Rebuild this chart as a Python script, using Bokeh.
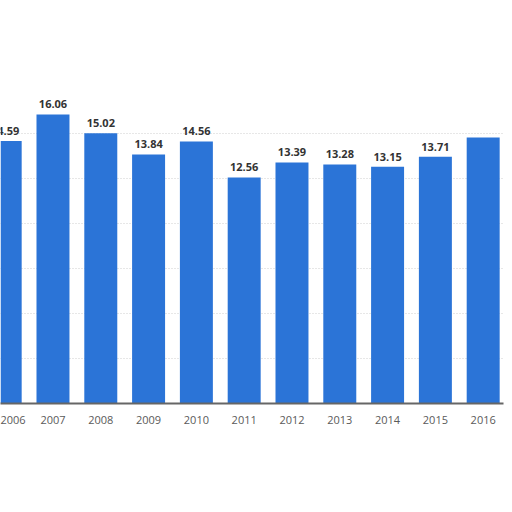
from bokeh.plotting import figure
from bokeh.models import ColumnDataSource, FixedTicker, Range1d
from bokeh.core.properties import value
from bokeh.embed import file_html
from bokeh.resources import INLINE

# values (2006 and 2016 partly hidden, estimated)
years = ["2006", "2007", "2008", "2009", "2010", "2011", "2012", "2013", "2014", "2015", "2016"]
rates = [14.59, 16.06, 15.02, 13.84, 14.56, 12.56, 13.39, 13.28, 13.15, 13.71, 14.78]
labels = ["14.59", "16.06", "15.02", "13.84", "14.56", "12.56", "13.39", "13.28", "13.15", "13.71", ""]

pos = list(range(len(years)))
src = ColumnDataSource(data=dict(x=pos, top=rates, label=labels))

p = figure(width=512, height=496, output_backend="svg", toolbar_location=None,
           x_range=Range1d(-0.098, 10.425), y_range=Range1d(0, 17.5),
           min_border_left=0, min_border_right=9, min_border_top=88, min_border_bottom=93)
p.outline_line_color = None
p.background_fill_color = "white"
p.border_fill_color = "white"

p.vbar(x="x", top="top", width=0.69, source=src, fill_color="#2b74d7", line_color=None)
p.text(x="x", y="top", text="label", source=src, y_offset=-6,
       text_align="center", text_baseline="bottom",
       text_font=value("Open Sans"), text_font_style="bold",
       text_font_size="11px", text_color="#333333")

p.yaxis.visible = False
p.xgrid.grid_line_color = None
p.ygrid.ticker = FixedTicker(ticks=[2.5, 5, 7.5, 10, 12.5, 15, 17.5])
p.ygrid.grid_line_color = "#cfcfcf"
p.ygrid.grid_line_dash = "1 2"

p.xaxis.ticker = FixedTicker(ticks=pos)
p.xaxis.major_label_overrides = {i: y for i, y in zip(pos, years)}
p.xaxis.major_tick_line_color = None
p.xaxis.minor_tick_line_color = None
p.xaxis.axis_line_color = "#666666"
p.xaxis.axis_line_width = 2
p.xaxis.major_label_standoff = 6
p.xaxis.major_label_text_font = "Open Sans"
p.xaxis.major_label_text_font_size = "11px"
p.xaxis.major_label_text_color = "#5a5a5a"

open("out.html", "w").write(file_html(p, INLINE))
